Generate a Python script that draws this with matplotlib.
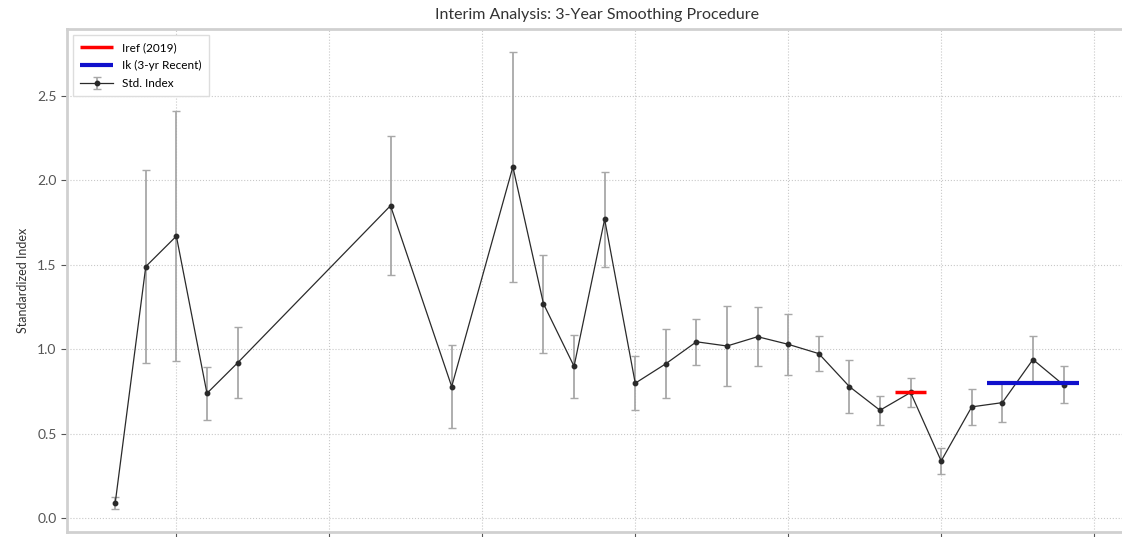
import matplotlib
matplotlib.use("Agg")
import matplotlib.pyplot as plt
import numpy as np

plt.rcParams['font.family'] = ['Lato', 'DejaVu Sans']

years = [1993, 1994, 1995, 1996, 1997, 2002, 2004, 2006, 2007, 2008, 2009,
         2010, 2011, 2012, 2013, 2014, 2015, 2016, 2017, 2018, 2019, 2020,
         2021, 2022, 2023, 2024]
index_values = [0.09, 1.49, 1.67, 0.74, 0.92, 1.85, 0.78, 2.08, 1.27, 0.90, 1.77,
                0.80, 0.915, 1.045, 1.02, 1.075, 1.03, 0.975, 0.78, 0.64, 0.745, 0.34,
                0.66, 0.685, 0.94, 0.79]
index_errors = [0.035, 0.57, 0.74, 0.155, 0.21, 0.41, 0.245, 0.68, 0.29, 0.185, 0.28,
                0.16, 0.205, 0.135, 0.235, 0.175, 0.18, 0.105, 0.155, 0.085, 0.083, 0.077,
                0.105, 0.115, 0.14, 0.11]
iref_year = 2019
iref_value = 0.745
ik_years = [2022, 2023, 2024]
ik_value = 0.80

W, H = 1122, 537
fig = plt.figure(figsize=(W / 100, H / 100), dpi=100)
left, right, top, bottom = 67, 1127, 29, 532
ax = fig.add_axes([left / W, (H - bottom) / H, (right - left) / W, (bottom - top) / H])

ax.hlines(iref_value, iref_year - 0.5, iref_year + 0.5, colors='red', linewidth=2.5,
          label=f'Iref ({iref_year})', zorder=4)
ax.hlines(ik_value, ik_years[0] - 0.5, ik_years[-1] + 0.5, colors='#1010cc', linewidth=3,
          label='Ik (3-yr Recent)', zorder=4)
ax.errorbar(years, index_values, yerr=index_errors, fmt='-o', color='#2a2a2a',
            ecolor='#a8a8a8', elinewidth=1.3, capsize=3, capthick=1.0,
            markersize=3.2, linewidth=0.9, label='Std. Index', zorder=3)

ax.set_title('Interim Analysis: 3-Year Smoothing Procedure', fontsize=11.5, color='#333333', pad=7)
ax.set_ylabel('Standardized Index', fontsize=9, color='#333333', labelpad=6)
ax.set_xticks([1995, 2000, 2005, 2010, 2015, 2020, 2025])
ax.set_yticks([0.0, 0.5, 1.0, 1.5, 2.0, 2.5])
ax.tick_params(axis='both', colors='#555555', labelsize=10, length=4, width=0.8)
ax.tick_params(axis='x', labelbottom=False)
ax.grid(True, linestyle=':', color='#bbbbbb', linewidth=0.8, alpha=0.8)
for s in ax.spines.values():
    s.set_color('#d0d0d0')
    s.set_linewidth(2.0)
ax.spines['right'].set_visible(False)

ax.legend(loc='upper left', fontsize=8.5, frameon=True, framealpha=1.0, edgecolor='#dddddd',
          fancybox=False, handlelength=2.8, borderpad=0.6, labelspacing=0.6)

fig.savefig('out.png', dpi=100)
